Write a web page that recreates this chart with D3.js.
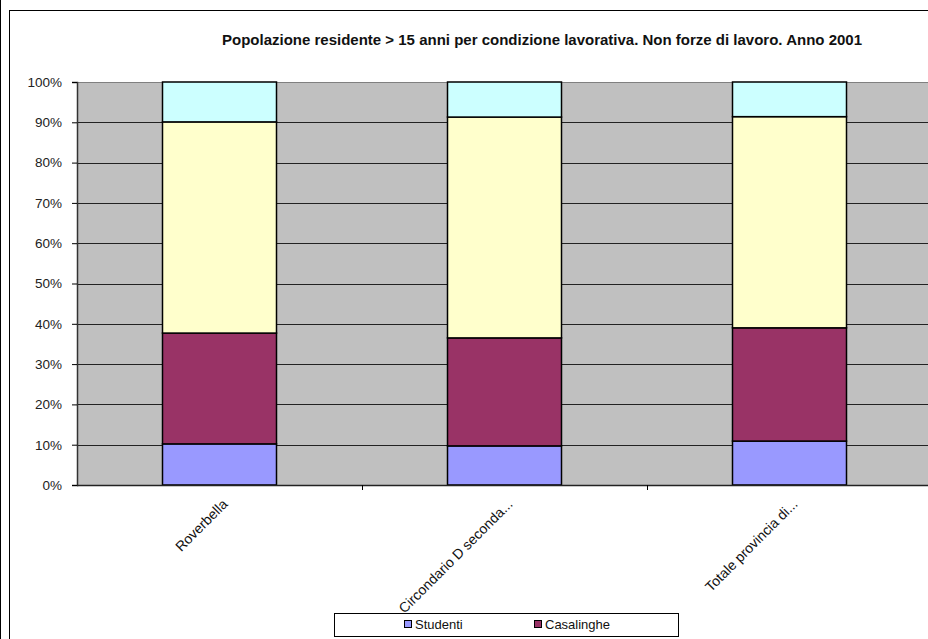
<!DOCTYPE html>
<html><head><meta charset="utf-8">
<script src="https://cdn.jsdelivr.net/npm/d3@7"></script>
<style>html,body{margin:0;padding:0;background:#fff;overflow:hidden}svg{display:block}</style>
</head><body>
<svg id="c" width="928" height="639"></svg>
<script>
const title = "Popolazione residente > 15 anni per condizione lavorativa. Non forze di lavoro. Anno 2001";
const categories = ["Roverbella", "Circondario D seconda...", "Totale provincia di..."];
const seriesNames = ["Studenti", "Casalinghe", "Ritirati dal lavoro", "Altri"];
const studenti = [10.2, 9.7, 10.9];
const casalinghe = [27.5, 26.8, 28.1];
const ritirati = [52.4, 54.8, 52.4];
const altri = [9.9, 8.7, 8.6];
const seriesColors = ["#9999FF", "#993366", "#FFFFCC", "#CCFFFF"];
const yTicks = [0, 10, 20, 30, 40, 50, 60, 70, 80, 90, 100];
const legendShown = ["Studenti", "Casalinghe"];

const svg = d3.select("#c");
const font = "Arial, 'Liberation Sans', sans-serif";

// outer frames
svg.append("line").attr("x1", 0.5).attr("x2", 0.5).attr("y1", 0).attr("y2", 639).attr("stroke", "#000");
svg.append("rect").attr("x", 9.5).attr("y", 10.5).attr("width", 940).attr("height", 650)
  .attr("fill", "#fff").attr("stroke", "#000");

const plot = {left: 77, top: 82, right: 932, bottom: 485};
const x = d3.scaleBand().domain(categories).range([plot.left, plot.right]).paddingInner(0.6).paddingOuter(0.3);
const xb = d3.scaleBand().domain(categories).range([plot.left, plot.right]);
const y = d3.scaleLinear().domain([0, 100]).range([plot.bottom, plot.top]);

svg.append("rect").attr("x", plot.left).attr("y", plot.top)
  .attr("width", plot.right - plot.left).attr("height", plot.bottom - plot.top)
  .attr("fill", "#C0C0C0");

// gridlines
svg.append("g").selectAll("line").data(yTicks.slice(1)).join("line")
  .attr("x1", plot.left).attr("x2", plot.right)
  .attr("y1", d => Math.round(y(d)) + 0.5).attr("y2", d => Math.round(y(d)) + 0.5)
  .attr("stroke", d => d === 100 ? "#808080" : "#222").attr("stroke-width", 1);

// stacked data
const rows = categories.map((c, i) => ({cat: c, Studenti: studenti[i], Casalinghe: casalinghe[i], "Ritirati dal lavoro": ritirati[i], Altri: altri[i]}));
const stack = d3.stack().keys(seriesNames).offset(d3.stackOffsetExpand)(rows);
const color = d3.scaleOrdinal().domain(seriesNames).range(seriesColors);

svg.append("g").selectAll("g").data(stack).join("g")
  .attr("fill", d => color(d.key))
  .selectAll("rect").data(d => d).join("rect")
  .attr("x", d => x(d.data.cat))
  .attr("width", x.bandwidth())
  .attr("y", d => y(d[1] * 100))
  .attr("height", d => y(d[0] * 100) - y(d[1] * 100))
  .attr("stroke", "#000").attr("stroke-width", 1.5);

// y axis
const yAxis = d3.axisLeft(y).tickValues(yTicks).tickFormat(d => d + "%").tickSize(5).tickPadding(10);
const ga = svg.append("g").attr("transform", `translate(${plot.left},0)`).call(yAxis);
ga.select(".domain").attr("stroke", "#333").attr("stroke-width", 1.5);
ga.selectAll(".tick line").attr("stroke", "#000");
ga.selectAll(".tick text").attr("font-family", font).attr("font-size", 13.5).attr("fill", "#222");

// x axis
const gx = svg.append("g").attr("transform", `translate(0,${plot.bottom})`);
gx.append("line").attr("x1", plot.left).attr("x2", plot.right).attr("y1", 0.5).attr("y2", 0.5).attr("stroke", "#222").attr("stroke-width", 1.5);
gx.selectAll(".tk").data(categories.slice(1)).join("line").attr("class", "tk")
  .attr("x1", d => xb(d) + 0.5).attr("x2", d => xb(d) + 0.5).attr("y1", 0).attr("y2", 5).attr("stroke", "#000");
gx.selectAll("text").data(categories).join("text")
  .attr("transform", d => `translate(${x(d) + x.bandwidth() / 2 + 9},${20}) rotate(-45)`)
  .attr("text-anchor", "end")
  .attr("font-family", font).attr("font-size", 14).attr("fill", "#111")
  .text(d => d);

// title
svg.append("text").attr("x", 542).attr("y", 45).attr("text-anchor", "middle")
  .attr("font-family", font).attr("font-size", 15).attr("font-weight", "bold").attr("fill", "#111")
  .text(title);

// legend
const lg = svg.append("g");
lg.append("rect").attr("x", 334.5).attr("y", 613.5).attr("width", 344).attr("height", 23).attr("fill", "#fff").attr("stroke", "#000");
const lx = d3.scalePoint().domain(legendShown).range([404, 534]);
const li = lg.selectAll("g").data(legendShown).join("g").attr("transform", d => `translate(${lx(d)},620)`);
li.append("rect").attr("x", 0.5).attr("y", 0.5).attr("width", 7).attr("height", 7).attr("fill", d => color(d)).attr("stroke", "#000");
li.append("text").attr("x", 11).attr("y", 9).attr("font-family", font).attr("font-size", 13).attr("fill", "#111").text(d => d);
</script>
</body></html>
